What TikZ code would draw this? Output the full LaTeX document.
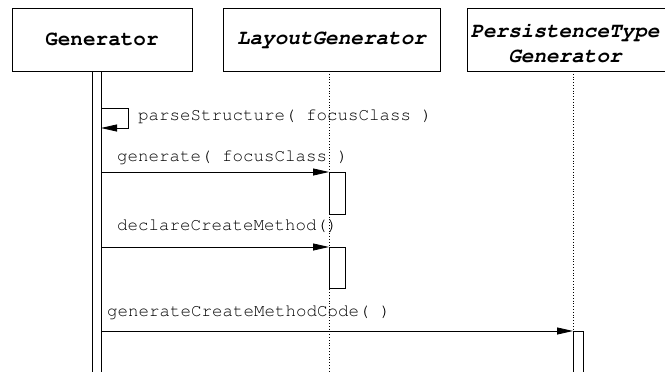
\documentclass[tikz,border=0pt]{standalone}
\usepackage[T1]{fontenc}
\renewcommand{\ttdefault}{pcr}
\usetikzlibrary{arrows.meta}

\begin{document}
\begin{tikzpicture}[x=1pt,y=-1pt,
  obj/.style={draw, line width=0.8pt, inner sep=0pt, minimum height=63pt},
  objtext/.style={font=\ttfamily\bfseries\fontsize{21}{24.5}\selectfont},
  objital/.style={font=\ttfamily\bfseries\slshape\fontsize{21}{24.5}\selectfont},
  msg/.style={font=\ttfamily\fontsize{17.5}{20}\selectfont, anchor=base west, inner sep=0pt},
  call/.style={draw, line width=0.8pt, -{Triangle[length=16pt,width=7pt]}},
  life/.style={dotted, line width=0.8pt},
  act/.style={draw, line width=0.8pt, fill=white},
]
\useasboundingbox (0,0) rectangle (665,372);

% participants
\node[obj, objtext, minimum width=180pt] (gen) at (102,39.5) {Generator};
\node[obj, objital, minimum width=217pt] (lay) at (331.5,39.5) {LayoutGenerator};
\node[objital, align=center, inner sep=0pt] (pers) at (565,43) {PersistenceType\\Generator};
\coordinate (persA) at (665,8);
\coordinate (persB) at (467,8);
\coordinate (persC) at (467,71);
\coordinate (persD) at (665,71);
\draw[line width=0.8pt] (persA) -- (persB) -- (persC) -- (persD);

% lifelines
\coordinate (layTop) at (329,71);
\coordinate (layEnd) at (329,372);
\coordinate (persTop) at (573,71);
\coordinate (persEnd) at (573,372);

% activation boxes on LayoutGenerator
\draw[act] (329,172) rectangle (345,214);
\draw[act] (329,247) rectangle (345,288);
% activation on PersistenceTypeGenerator
\draw[line width=0.8pt] (573,372) -- (573,331) -- (583,331) -- (583,372);

\draw[life] (layTop) -- (layEnd);
\draw[life] (persTop) -- (persEnd);

% activation on Generator
\draw[line width=0.8pt] (92,71) -- (92,372);
\draw[line width=0.8pt] (101,71) -- (101,372);

% messages
\coordinate (s1) at (101,108);
\coordinate (s2) at (128,108);
\coordinate (s3) at (128,128);
\coordinate (s4) at (101,128);
\draw[call] (s1) -- (s2) -- (s3) -- (s4);
\node[msg] (t1) at (138,120) {parseStructure( focusClass )};

\coordinate (g1) at (101,172);
\coordinate (g2) at (329,172);
\draw[call] (g1) -- (g2);
\node[msg] (t2) at (117,161) {generate( focusClass )};

\coordinate (d1) at (101,247);
\coordinate (d2) at (329,247);
\draw[call] (d1) -- (d2);
\node[msg] (t3) at (117,230) {declareCreateMethod()};

\coordinate (c1) at (101,331);
\coordinate (c2) at (573,331);
\draw[call] (c1) -- (c2);
\node[msg] (t4) at (107,316) {generateCreateMethodCode( )};
\end{tikzpicture}
\end{document}
